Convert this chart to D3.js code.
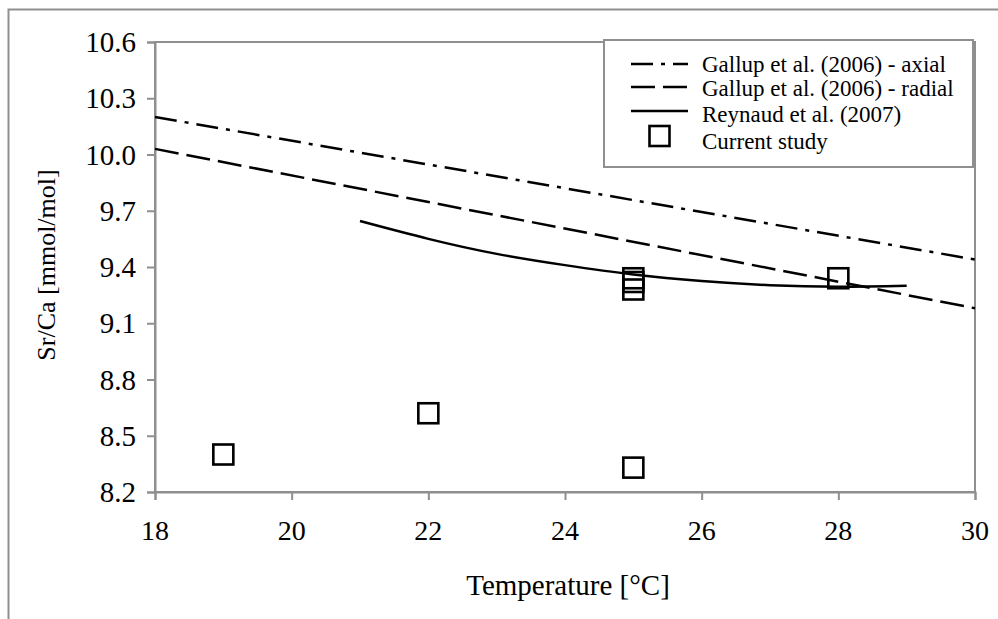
<!DOCTYPE html>
<html>
<head>
<meta charset="utf-8">
<script src="https://cdn.jsdelivr.net/npm/d3@7"></script>
<style>
  body { margin: 0; background: #fff; }
  text { font-family: "Liberation Serif", "Times New Roman", serif; fill: #000; }
</style>
</head>
<body>
<div id="chart"></div>
<script>
// values
var studyTemp = [19, 22, 25, 25, 25, 25, 28];
var studySrCa = [8.40, 8.62, 8.33, 9.34, 9.32, 9.28, 9.34];

var axialTemp = [18, 30];
var axialSrCa = [10.20, 9.44];

var radialTemp = [18, 30];
var radialSrCa = [10.03, 9.18];

var reynaudTemp = [21, 22, 23, 24, 25, 26, 27, 28, 29];
var reynaudSrCa = [9.645, 9.55, 9.47, 9.41, 9.36, 9.325, 9.303, 9.295, 9.30];

var xTicks = [18, 20, 22, 24, 26, 28, 30];
var yTicks = [8.2, 8.5, 8.8, 9.1, 9.4, 9.7, 10.0, 10.3, 10.6];

var legendLabels = ["Gallup et al. (2006) - axial", "Gallup et al. (2006) - radial", "Reynaud et al. (2007)", "Current study"];

var areaWidth = 998, areaHeight = 619;
var plotLeft = 155, plotRight = 975, plotTop = 42, plotBottom = 492;
var grey = "#8f8f8f";

var svg = d3.select("#chart").append("svg")
  .attr("width", areaWidth).attr("height", areaHeight);

// outer frame (only top and left edges fall inside the picture)
svg.append("rect")
  .attr("x", 8.5).attr("y", 9.5)
  .attr("width", 1100).attr("height", 800)
  .style("fill", "none").style("stroke", grey).style("stroke-width", 2);

var x = d3.scaleLinear().domain([18, 30]).range([plotLeft, plotRight]);
var y = d3.scaleLinear().domain([8.2, 10.6]).range([plotBottom, plotTop]);

// plot area border
svg.append("rect")
  .attr("x", plotLeft).attr("y", plotTop)
  .attr("width", plotRight - plotLeft).attr("height", plotBottom - plotTop)
  .style("fill", "none").style("stroke", grey).style("stroke-width", 2);

// axes: lines and ticks from d3, labels drawn as plain text below
var xAxis = svg.append("g")
  .attr("transform", "translate(0," + plotBottom + ")")
  .call(d3.axisBottom(x).tickValues(xTicks).tickSize(8).tickFormat(""));

var yAxis = svg.append("g")
  .attr("transform", "translate(" + plotLeft + ",0)")
  .call(d3.axisLeft(y).tickValues(yTicks).tickSize(8).tickFormat(""));

[xAxis, yAxis].forEach(function (g) {
  g.select(".domain").style("stroke", grey).style("stroke-width", 2);
  g.selectAll(".tick line").style("stroke", grey).style("stroke-width", 2);
});

svg.selectAll("text.xlab")
  .data(xTicks)
  .enter()
  .append("text")
  .attr("class", "xlab")
  .attr("x", function (d) { return x(d); })
  .attr("y", plotBottom + 48)
  .attr("text-anchor", "middle")
  .style("font-size", "28px")
  .text(function (d) { return d; });

svg.selectAll("text.ylab")
  .data(yTicks)
  .enter()
  .append("text")
  .attr("class", "ylab")
  .attr("x", plotLeft - 19)
  .attr("y", function (d) { return y(d) + 10; })
  .attr("text-anchor", "end")
  .style("font-size", "29px")
  .text(function (d) { return d3.format(".1f")(d); });

// axis titles
svg.append("text")
  .attr("x", (plotLeft + plotRight) / 2 + 3).attr("y", 595)
  .attr("text-anchor", "middle")
  .style("font-size", "29px")
  .text("Temperature [°C]");

svg.append("text")
  .attr("transform", "translate(55,265) rotate(-90)")
  .attr("text-anchor", "middle")
  .style("font-size", "26px")
  .text("Sr/Ca [mmol/mol]");

function pairs(xs, ys) {
  return xs.map(function (d, i) { return [d, ys[i]]; });
}

var line = d3.line()
  .x(function (d) { return x(d[0]); })
  .y(function (d) { return y(d[1]); });

var curve = d3.line()
  .curve(d3.curveNatural)
  .x(function (d) { return x(d[0]); })
  .y(function (d) { return y(d[1]); });

svg.append("path")
  .attr("d", line(pairs(axialTemp, axialSrCa)))
  .style("fill", "none").style("stroke", "#000").style("stroke-width", 2.5)
  .style("stroke-dasharray", "22,8,4,8");

svg.append("path")
  .attr("d", line(pairs(radialTemp, radialSrCa)))
  .style("fill", "none").style("stroke", "#000").style("stroke-width", 2.5)
  .style("stroke-dasharray", "24,8");

svg.append("path")
  .attr("d", curve(pairs(reynaudTemp, reynaudSrCa)))
  .style("fill", "none").style("stroke", "#000").style("stroke-width", 2.5);

var sq = 20;
svg.selectAll("rect.pt")
  .data(pairs(studyTemp, studySrCa))
  .enter()
  .append("rect")
  .attr("class", "pt")
  .attr("x", function (d) { return x(d[0]) - sq / 2; })
  .attr("y", function (d) { return y(d[1]) - sq / 2; })
  .attr("width", sq).attr("height", sq)
  .style("fill", "none").style("stroke", "#000").style("stroke-width", 2.6);

// legend
var lg = svg.append("g");
lg.append("rect")
  .attr("x", 604).attr("y", 40)
  .attr("width", 369).attr("height", 127)
  .style("fill", "#fff").style("stroke", grey).style("stroke-width", 2);

var rowY = [64, 87, 111, 136];
var textY = [72, 96, 122, 149];
var dashes = ["22,8,4,8", "24,8", null];
legendLabels.forEach(function (label, i) {
  if (i < 3) {
    lg.append("line")
      .attr("x1", 631).attr("x2", 688)
      .attr("y1", rowY[i]).attr("y2", rowY[i])
      .style("stroke", "#000").style("stroke-width", 2.5)
      .style("stroke-dasharray", dashes[i]);
  } else {
    lg.append("rect")
      .attr("x", 659.5 - sq / 2).attr("y", rowY[i] - sq / 2)
      .attr("width", sq).attr("height", sq)
      .style("fill", "none").style("stroke", "#000").style("stroke-width", 2.6);
  }
  lg.append("text")
    .attr("x", 702).attr("y", textY[i])
    .style("font-size", "23px")
    .text(label);
});
</script>
</body>
</html>
